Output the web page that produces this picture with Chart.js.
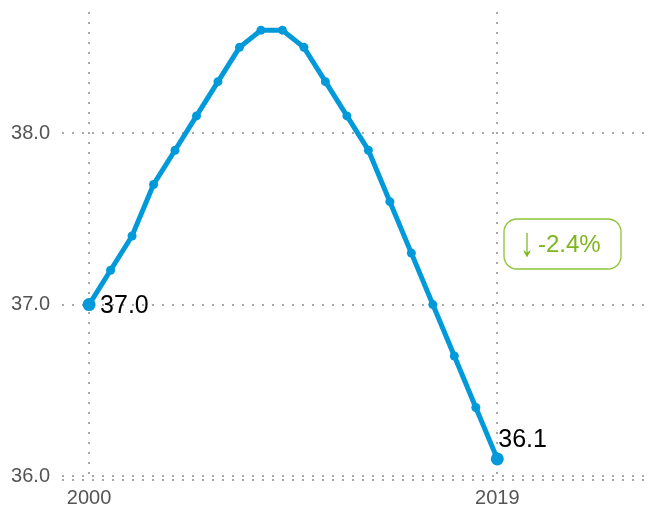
<!DOCTYPE html>
<html>
<head>
<meta charset="utf-8">
<script src="https://cdn.jsdelivr.net/npm/chart.js@4"></script>
<style>
  html, body { margin: 0; padding: 0; background: #fff; }
  #wrap { width: 652px; height: 508px; }
</style>
</head>
<body>
<div id="wrap"><canvas id="graph01"></canvas></div>
<script>
const years = [2000, 2001, 2002, 2003, 2004, 2005, 2006, 2007, 2008, 2009,
               2010, 2011, 2012, 2013, 2014, 2015, 2016, 2017, 2018, 2019]
const values = [37.0, 37.2, 37.4, 37.7, 37.9, 38.1, 38.3, 38.5, 38.6, 38.6,
                38.5, 38.3, 38.1, 37.9, 37.6, 37.3, 37.0, 36.7, 36.4, 36.1]
const xTicks = [2000, 2019]
const yTicks = [36, 37, 38]
const changeLabel = '-2.4%'

const blue = '#009ada'
const green = '#7cb61c'
const gridGrey = '#a8a8a8'
const font = "'Liberation Sans', Arial, sans-serif"

// no extra label padding around the plot
const noPad = axis => {
  axis.paddingTop = 0
  axis.paddingBottom = 0
  axis.paddingLeft = 0
  axis.paddingRight = 0
}

const extras = {
  id: 'extras',
  beforeDatasetsDraw(chart) {
    // second dotted row under the baseline
    const ctx = chart.ctx
    const a = chart.chartArea
    ctx.save()
    ctx.strokeStyle = gridGrey
    ctx.lineWidth = 2
    ctx.setLineDash([2, 8])
    ctx.beginPath()
    ctx.moveTo(a.left, a.bottom)
    ctx.lineTo(a.right, a.bottom)
    ctx.stroke()
    ctx.restore()
  },
  afterDatasetsDraw(chart) {
    const ctx = chart.ctx
    const pts = chart.getDatasetMeta(0).data
    const first = pts[0]
    const last = pts[pts.length - 1]
    ctx.save()
    ctx.fillStyle = '#000'
    ctx.font = '25px ' + font
    ctx.textAlign = 'left'
    ctx.textBaseline = 'middle'
    ctx.fillText(values[0].toFixed(1), first.x + 11, first.y + 2)
    ctx.fillText(values[values.length - 1].toFixed(1), last.x + 1, last.y - 19)

    // change badge
    const bx = 504, by = 219, bw = 117, bh = 50
    ctx.strokeStyle = '#8cc43a'
    ctx.lineWidth = 1.3
    ctx.beginPath()
    ctx.roundRect(bx, by, bw, bh, 13)
    ctx.stroke()
    ctx.fillStyle = green
    ctx.font = '24px ' + font
    ctx.textAlign = 'left'
    ctx.fillText(changeLabel, bx + 34, by + bh / 2 + 1)
    // tall thin arrow
    ctx.save()
    ctx.translate(bx + 23, by + bh / 2 + 1)
    ctx.scale(1, 1.45)
    ctx.font = '28px ' + font
    ctx.textAlign = 'center'
    ctx.fillText('\u2193', 0, 0)
    ctx.restore()
    ctx.restore()
  }
}

new Chart(document.getElementById('graph01'), {
  type: 'line',
  data: {
    labels: years,
    datasets: [{
      data: years.map((y, i) => ({ x: y, y: values[i] })),
      borderColor: blue,
      backgroundColor: blue,
      borderWidth: 5,
      pointRadius: values.map((v, i) => (i === 0 || i === values.length - 1) ? 6.5 : 4.5),
      pointBorderWidth: 0,
      tension: 0,
      clip: false
    }]
  },
  options: {
    responsive: true,
    maintainAspectRatio: false,
    animation: false,
    layout: { autoPadding: false, padding: { left: 10, right: 0, top: 12, bottom: 0 } },
    plugins: {
      legend: { display: false },
      tooltip: { enabled: false }
    },
    scales: {
      x: {
        type: 'linear',
        min: 1998.74,
        max: 2026.2,
        afterBuildTicks: axis => { axis.ticks = xTicks.map(v => ({ value: v })) },
        afterFit: axis => { axis.height = 28; noPad(axis) },
        ticks: {
          color: '#555',
          font: { family: font, size: 20 },
          padding: 6,
          maxRotation: 0,
          callback: v => String(v)
        },
        grid: { color: gridGrey, lineWidth: 2, drawTicks: false },
        border: { display: false, dash: [2, 8] }
      },
      y: {
        min: 35.977,
        max: 38.706,
        afterBuildTicks: axis => { axis.ticks = yTicks.map(v => ({ value: v })) },
        afterFit: axis => { axis.width = 52; noPad(axis) },
        ticks: {
          color: '#555',
          font: { family: font, size: 20 },
          padding: 12,
          callback: v => v.toFixed(1)
        },
        grid: { color: gridGrey, lineWidth: 2, drawTicks: false },
        border: { display: false, dash: [2, 8] }
      }
    }
  },
  plugins: [extras]
})
</script>
</body>
</html>
